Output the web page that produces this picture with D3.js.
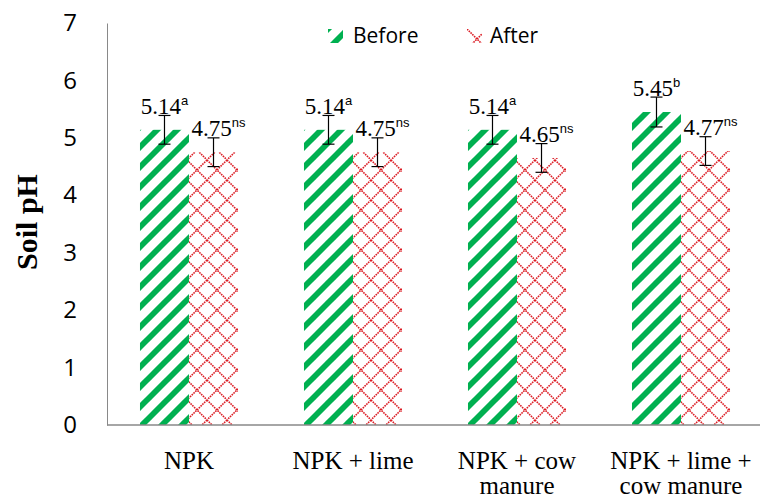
<!DOCTYPE html>
<html>
<head>
<meta charset="utf-8">
<script src="https://cdn.jsdelivr.net/npm/d3@7/dist/d3.min.js"></script>
<style>
  html, body { margin: 0; padding: 0; background: #fff; }
  svg { display: block; }
  .serif { font-family: "Liberation Serif", "Times New Roman", Times, serif; }
  .sans { font-family: "Open Sans", "Liberation Sans", Arial, sans-serif; }
  .sup { font-family: "Liberation Sans", Arial, sans-serif; }
</style>
</head>
<body>
<svg id="chart" width="760" height="500"></svg>
<script>
// ---- data ----
const categories = ["NPK", "NPK + lime", "NPK + cow manure", "NPK + lime + cow manure"];
const categoryLines = [["NPK"], ["NPK + lime"], ["NPK + cow", "manure"], ["NPK + lime +", "cow manure"]];
const seriesNames = ["Before", "After"];
const beforeValues = [5.14, 5.14, 5.14, 5.45];
const afterValues = [4.75, 4.75, 4.65, 4.77];
const beforeErrors = [0.25, 0.25, 0.25, 0.26];
const afterErrors = [0.25, 0.25, 0.25, 0.25];
const beforeLetters = ["a", "a", "a", "b"];
const afterLetters = ["ns", "ns", "ns", "ns"];
const yTicks = [0, 1, 2, 3, 4, 5, 6, 7];

const svg = d3.select("#chart");
const defs = svg.append("defs");

// patterns
const pg = defs.append("pattern").attr("id", "greenStripe")
  .attr("patternUnits", "userSpaceOnUse").attr("width", 20).attr("height", 20);
pg.append("rect").attr("width", 20).attr("height", 20).attr("fill", "#fff");
[[-10, 10, 10, -10], [0, 20, 20, 0], [10, 30, 30, 10]].forEach(d => {
  pg.append("line").attr("x1", d[0]).attr("y1", d[1]).attr("x2", d[2]).attr("y2", d[3])
    .attr("stroke", "#00b050").attr("stroke-width", 5.8);
});

const pr = defs.append("pattern").attr("id", "redDiamond")
  .attr("patternUnits", "userSpaceOnUse").attr("width", 20).attr("height", 20);
pr.append("rect").attr("width", 20).attr("height", 20).attr("fill", "#fff");
pr.append("line").attr("x1", 0).attr("y1", 0).attr("x2", 20).attr("y2", 20)
  .attr("stroke", "#dc1c24").attr("stroke-width", 1.6).attr("stroke-dasharray", "1.6 0.9");
pr.append("line").attr("x1", 20).attr("y1", 0).attr("x2", 0).attr("y2", 20)
  .attr("stroke", "#dc1c24").attr("stroke-width", 1.6).attr("stroke-dasharray", "1.6 0.9");

const fills = { Before: "url(#greenStripe)", After: "url(#redDiamond)" };

// scales
const x0 = d3.scaleBand().domain(categories).range([107, 763]).paddingInner(0).paddingOuter(0);
const x1 = d3.scaleBand().domain(seriesNames).range([0, x0.bandwidth()]).paddingInner(0).paddingOuter(0.673);
const y = d3.scaleLinear().domain([0, 7]).range([425, 23]);

const rows = categories.map((c, i) => ({
  cat: c,
  items: [
    { s: "Before", v: beforeValues[i], e: beforeErrors[i], l: beforeLetters[i] },
    { s: "After", v: afterValues[i], e: afterErrors[i], l: afterLetters[i] }
  ]
}));

// y axis tick labels
const yAxis = d3.axisLeft(y).tickValues(yTicks).tickSize(0).tickPadding(30).tickFormat(d3.format("d"));
const gy = svg.append("g").attr("transform", "translate(107,0)").call(yAxis);
gy.attr("font-family", null).attr("font-size", null);
gy.select(".domain").attr("stroke", "#898989");
gy.selectAll("text").attr("class", "sans").style("font-size", "24px").attr("fill", "#000");

// bars
const groups = svg.append("g").selectAll("g").data(rows).join("g")
  .attr("transform", d => `translate(${x0(d.cat)},0)`);

groups.selectAll("rect").data(d => d.items).join("rect")
  .attr("x", d => x1(d.s)).attr("width", x1.bandwidth())
  .attr("y", d => y(d.v)).attr("height", d => y(0) - y(d.v))
  .attr("fill", d => fills[d.s]);

// error bars
const eb = groups.selectAll("g.err").data(d => d.items).join("g").attr("class", "err");
eb.append("line")
  .attr("x1", d => x1(d.s) + x1.bandwidth() / 2).attr("x2", d => x1(d.s) + x1.bandwidth() / 2)
  .attr("y1", d => y(d.v + d.e)).attr("y2", d => y(d.v - d.e))
  .attr("stroke", "#000").attr("stroke-width", 1.2);
[1, -1].forEach(sgn => {
  eb.append("line")
    .attr("x1", d => x1(d.s) + x1.bandwidth() / 2 - 6).attr("x2", d => x1(d.s) + x1.bandwidth() / 2 + 6)
    .attr("y1", d => y(d.v + sgn * d.e)).attr("y2", d => y(d.v + sgn * d.e))
    .attr("stroke", "#000").attr("stroke-width", 1.2);
});

// data labels
const lab = groups.selectAll("text.val").data(d => d.items).join("text").attr("class", "val serif")
  .attr("x", d => x1(d.s) + x1.bandwidth() / 2 + (d.s === "After" ? 5 : 0))
  .attr("y", d => y(d.v) - 16)
  .attr("text-anchor", "middle")
  .style("font-size", "23px").attr("fill", "#000");
lab.append("tspan").text(d => d.v.toFixed(2));
lab.append("tspan").attr("class", "sup").attr("dy", -9)
  .style("font-size", "13px")
  .text(d => d.l);

// x axis line
svg.append("line").attr("x1", 107).attr("x2", 760).attr("y1", 425).attr("y2", 425)
  .attr("stroke", "#898989").attr("stroke-width", 1.3);

// category labels
const cl = svg.append("g").selectAll("text").data(categories).join("text")
  .attr("class", "serif")
  .attr("x", d => x0(d) + x0.bandwidth() / 2).attr("y", 469)
  .attr("text-anchor", "middle")
  .style("font-size", "25px").attr("fill", "#000");
cl.selectAll("tspan").data((d, i) => categoryLines[i]).join("tspan")
  .attr("x", function () { return d3.select(this.parentNode).attr("x"); })
  .attr("dy", (d, i) => i === 0 ? 0 : 25)
  .text(d => d);

// y axis title
svg.append("text").attr("class", "serif").attr("transform", "translate(37,222) rotate(-90)")
  .attr("text-anchor", "middle")
  .style("font-weight", "bold").style("font-size", "30px").attr("fill", "#000")
  .text("Soil pH");

// legend
const legendX = [328, 467];
const lg = svg.append("g").selectAll("g").data(seriesNames).join("g")
  .attr("transform", (d, i) => `translate(${legendX[i]},29)`);
lg.append("rect").attr("width", 15).attr("height", 14).attr("fill", d => fills[d]);
lg.append("text").attr("class", "sans").attr("x", (d, i) => i === 0 ? 25 : 23).attr("y", 14)
  .style("font-size", "21px").attr("fill", "#000")
  .text(d => d);
</script>
</body>
</html>
